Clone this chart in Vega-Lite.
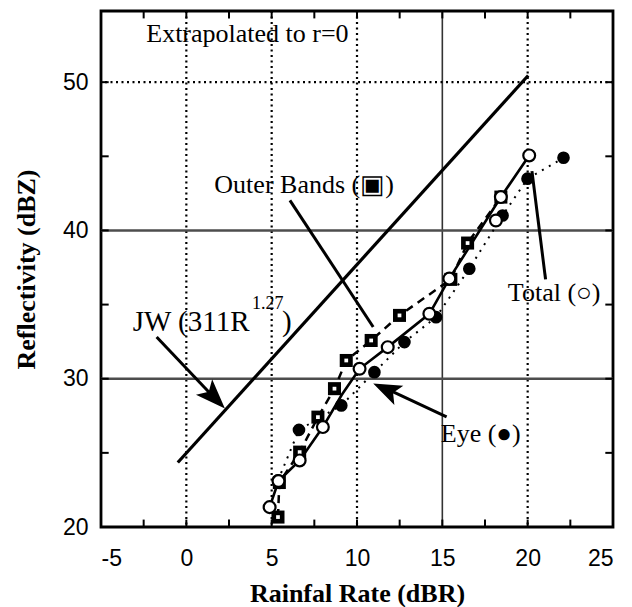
{
  "$schema": "https://vega.github.io/schema/vega-lite/v6.json",
  "width": 512,
  "height": 516,
  "autosize": {"type": "none"},
  "padding": {"left": 101, "top": 11, "right": 19, "bottom": 80},
  "background": "white",
  "config": {
    "view": {"stroke": "black", "strokeWidth": 2.8, "fill": null},
    "axis": {"domain": false, "grid": false, "ticks": false, "labelColor": "black", "labelFont": "Liberation Sans", "labelFontSize": 23, "titleColor": "black", "titleFont": "Liberation Serif", "titleFontWeight": "bold", "titleFontSize": 26}
  },
  "datasets": {
    "xticks": [{"v": -2.5}, {"v": 0}, {"v": 2.5}, {"v": 5}, {"v": 7.5}, {"v": 10}, {"v": 12.5}, {"v": 15}, {"v": 17.5}, {"v": 20}, {"v": 22.5}],
    "yticks": [{"v": 25}, {"v": 30}, {"v": 35}, {"v": 40}, {"v": 45}, {"v": 50}],
    "gridx": [{"v": 0, "t": "dot"}, {"v": 5, "t": "dot"}, {"v": 10, "t": "dot"}, {"v": 15, "t": "solid"}, {"v": 20, "t": "dot"}],
    "gridy": [{"v": 50, "t": "dot"}, {"v": 40, "t": "solid"}, {"v": 30, "t": "solid"}],
    "jw": [{"x": -0.5, "y": 24.35}, {"x": 20.03, "y": 50.45}],
    "totalLine": [
      {"x": 4.88, "y": 21.34}, {"x": 5.4, "y": 23.1}, {"x": 6.64, "y": 24.49}, {"x": 8.0, "y": 26.74},
      {"x": 9.1, "y": 28.9}, {"x": 10.15, "y": 30.67}, {"x": 11.8, "y": 32.13}, {"x": 14.24, "y": 34.38},
      {"x": 15.41, "y": 36.75}, {"x": 18.43, "y": 42.25}, {"x": 20.09, "y": 45.06}
    ],
    "totalPts": [
      {"x": 4.88, "y": 21.34}, {"x": 5.4, "y": 23.1}, {"x": 6.64, "y": 24.49}, {"x": 8.0, "y": 26.74},
      {"x": 10.15, "y": 30.67}, {"x": 11.8, "y": 32.13}, {"x": 14.24, "y": 34.38}, {"x": 15.41, "y": 36.75},
      {"x": 18.14, "y": 40.67}, {"x": 18.43, "y": 42.25}, {"x": 20.09, "y": 45.06}
    ],
    "outer": [
      {"x": 5.37, "y": 20.67}, {"x": 5.45, "y": 23.0}, {"x": 6.64, "y": 25.05}, {"x": 7.71, "y": 27.41},
      {"x": 8.68, "y": 29.33}, {"x": 9.37, "y": 31.23}, {"x": 10.83, "y": 32.58}, {"x": 12.49, "y": 34.27},
      {"x": 15.5, "y": 36.7}, {"x": 16.48, "y": 39.15}, {"x": 18.43, "y": 42.25}
    ],
    "eye": [
      {"x": 5.37, "y": 23.14}, {"x": 6.6, "y": 26.55}, {"x": 9.08, "y": 28.2}, {"x": 11.02, "y": 30.44},
      {"x": 12.78, "y": 32.47}, {"x": 14.63, "y": 34.15}, {"x": 16.58, "y": 37.42}, {"x": 18.53, "y": 41.01},
      {"x": 19.99, "y": 43.49}, {"x": 22.1, "y": 44.9}
    ],
    "arrows": [
      {"x": 6.07, "y": 42.03, "x2": 10.95, "y2": 33.49},
      {"x": -1.74, "y": 32.82, "x2": 1.9, "y2": 28.4},
      {"x": 15.25, "y": 27.43, "x2": 11.4, "y2": 29.5},
      {"x": 21.05, "y": 36.7, "x2": 20.25, "y2": 44.0}
    ],
    "heads": [{"k": "jw", "x": 2.26, "y": 27.99}, {"k": "eye", "x": 10.95, "y": 29.68}],
    "labels": [
      {"x": 3.58, "y": 53.26, "text": "Extrapolated to r=0"},
      {"x": 6.9, "y": 43.04, "text": "Outer Bands (▣)"},
      {"x": 21.55, "y": 35.81, "text": "Total (○)"},
      {"x": 17.25, "y": 26.3, "text": "Eye (●)"}
    ],
    "jwText": [{"x": 3.7, "y": 33.83, "text": "JW (311R"}],
    "jwSup": [{"x": 3.85, "y": 35.05, "text": "1.27"}],
    "jwClose": [{"x": 5.6, "y": 33.83, "text": ")"}]
  },
  "layer": [
    {
      "data": {"name": "jw"},
      "mark": {"type": "line", "color": "black", "strokeWidth": 0, "opacity": 0},
      "encoding": {
        "x": {"field": "x", "type": "quantitative", "scale": {"domain": [-5, 25], "nice": false, "zero": false},
          "axis": {"orient": "bottom", "values": [-5, 0, 5, 10, 15, 20, 25],
            "labelExpr": "'' + datum.value", "labelPadding": 20,
            "title": "Rainfal Rate (dBR)", "titleX": 256, "titleY": 66, "titleAlign": "center", "titleBaseline": "middle"}},
        "y": {"field": "y", "type": "quantitative", "scale": {"domain": [20, 54.8], "nice": false, "zero": false},
          "axis": {"orient": "left", "values": [20, 30, 40, 50],
            "labelExpr": "'' + datum.value", "labelPadding": 13,
            "title": "Reflectivity (dBZ)", "titleX": -75, "titleY": 258, "titleAlign": "center", "titleBaseline": "middle", "titleAngle": -90}}
      }
    },
    {
      "data": {"name": "gridx"},
      "transform": [{"filter": "datum.t == 'dot'"}],
      "mark": {"type": "rule", "color": "black", "strokeWidth": 2.2, "strokeDash": [2, 3.5]},
      "encoding": {"x": {"field": "v", "type": "quantitative"}}
    },
    {
      "data": {"name": "gridx"},
      "transform": [{"filter": "datum.t == 'solid'"}],
      "mark": {"type": "rule", "color": "#333333", "strokeWidth": 1.6},
      "encoding": {"x": {"field": "v", "type": "quantitative"}}
    },
    {
      "data": {"name": "gridy"},
      "transform": [{"filter": "datum.t == 'dot'"}],
      "mark": {"type": "rule", "color": "black", "strokeWidth": 2.2, "strokeDash": [2, 3.5]},
      "encoding": {"y": {"field": "v", "type": "quantitative"}}
    },
    {
      "data": {"name": "gridy"},
      "transform": [{"filter": "datum.t == 'solid'"}],
      "mark": {"type": "rule", "color": "#4d4d4d", "strokeWidth": 2.4},
      "encoding": {"y": {"field": "v", "type": "quantitative"}}
    },
    {
      "data": {"name": "jw"},
      "mark": {"type": "line", "color": "black", "strokeWidth": 3.2},
      "encoding": {"x": {"field": "x", "type": "quantitative"}, "y": {"field": "y", "type": "quantitative"}}
    },
    {
      "data": {"name": "outer"},
      "mark": {"type": "line", "color": "black", "strokeWidth": 2.5, "strokeDash": [8, 6]},
      "encoding": {"x": {"field": "x", "type": "quantitative"}, "y": {"field": "y", "type": "quantitative"}}
    },
    {
      "data": {"name": "eye"},
      "mark": {"type": "line", "color": "black", "strokeWidth": 2, "strokeDash": [2, 6]},
      "encoding": {"x": {"field": "x", "type": "quantitative"}, "y": {"field": "y", "type": "quantitative"}}
    },
    {
      "data": {"name": "totalLine"},
      "mark": {"type": "line", "color": "black", "strokeWidth": 2.6},
      "encoding": {"x": {"field": "x", "type": "quantitative"}, "y": {"field": "y", "type": "quantitative"}}
    },
    {
      "data": {"name": "eye"},
      "mark": {"type": "point", "shape": "circle", "filled": true, "color": "black", "size": 160, "opacity": 1},
      "encoding": {"x": {"field": "x", "type": "quantitative"}, "y": {"field": "y", "type": "quantitative"}}
    },
    {
      "data": {"name": "outer"},
      "mark": {"type": "point", "shape": "square", "filled": true, "color": "black", "size": 170, "opacity": 1},
      "encoding": {"x": {"field": "x", "type": "quantitative"}, "y": {"field": "y", "type": "quantitative"}}
    },
    {
      "data": {"name": "outer"},
      "mark": {"type": "point", "shape": "square", "filled": true, "color": "white", "size": 14, "opacity": 1},
      "encoding": {"x": {"field": "x", "type": "quantitative"}, "y": {"field": "y", "type": "quantitative"}}
    },
    {
      "data": {"name": "totalPts"},
      "mark": {"type": "point", "shape": "circle", "filled": false, "fill": "white", "stroke": "black", "strokeWidth": 2.2, "size": 140, "opacity": 1},
      "encoding": {"x": {"field": "x", "type": "quantitative"}, "y": {"field": "y", "type": "quantitative"}}
    },
    {
      "data": {"name": "arrows"},
      "mark": {"type": "rule", "color": "black", "strokeWidth": 3},
      "encoding": {
        "x": {"field": "x", "type": "quantitative"}, "y": {"field": "y", "type": "quantitative"},
        "x2": {"field": "x2"}, "y2": {"field": "y2"}
      }
    },
    {
      "data": {"name": "heads"},
      "transform": [{"filter": "datum.k == 'jw'"}],
      "mark": {"type": "point", "shape": "M0,0 L-0.75,2 L0,1.55 L0.75,2 Z", "filled": true, "color": "black", "size": 900, "angle": 136, "opacity": 1},
      "encoding": {"x": {"field": "x", "type": "quantitative"}, "y": {"field": "y", "type": "quantitative"}}
    },
    {
      "data": {"name": "heads"},
      "transform": [{"filter": "datum.k == 'eye'"}],
      "mark": {"type": "point", "shape": "M0,0 L-0.75,2 L0,1.55 L0.75,2 Z", "filled": true, "color": "black", "size": 800, "angle": 295, "opacity": 1},
      "encoding": {"x": {"field": "x", "type": "quantitative"}, "y": {"field": "y", "type": "quantitative"}}
    },
    {
      "data": {"name": "labels"},
      "mark": {"type": "text", "font": "Liberation Serif", "fontSize": 26, "align": "center", "baseline": "middle", "color": "black"},
      "encoding": {"x": {"field": "x", "type": "quantitative"}, "y": {"field": "y", "type": "quantitative"}, "text": {"field": "text"}}
    },
    {
      "data": {"name": "jwText"},
      "mark": {"type": "text", "font": "Liberation Serif", "fontSize": 29, "align": "right", "baseline": "middle", "color": "black"},
      "encoding": {"x": {"field": "x", "type": "quantitative"}, "y": {"field": "y", "type": "quantitative"}, "text": {"field": "text"}}
    },
    {
      "data": {"name": "jwSup"},
      "mark": {"type": "text", "font": "Liberation Serif", "fontSize": 18, "align": "left", "baseline": "middle", "color": "black"},
      "encoding": {"x": {"field": "x", "type": "quantitative"}, "y": {"field": "y", "type": "quantitative"}, "text": {"field": "text"}}
    },
    {
      "data": {"name": "jwClose"},
      "mark": {"type": "text", "font": "Liberation Serif", "fontSize": 29, "align": "left", "baseline": "middle", "color": "black"},
      "encoding": {"x": {"field": "x", "type": "quantitative"}, "y": {"field": "y", "type": "quantitative"}, "text": {"field": "text"}}
    },
    {
      "data": {"name": "xticks"},
      "mark": {"type": "rule", "color": "black", "strokeWidth": 2},
      "encoding": {"x": {"field": "v", "type": "quantitative"}, "y": {"datum": 20, "type": "quantitative"}, "y2": {"datum": 20.5}}
    },
    {
      "data": {"name": "xticks"},
      "mark": {"type": "rule", "color": "black", "strokeWidth": 2},
      "encoding": {"x": {"field": "v", "type": "quantitative"}, "y": {"datum": 54.8, "type": "quantitative"}, "y2": {"datum": 54.3}}
    },
    {
      "data": {"name": "yticks"},
      "mark": {"type": "rule", "color": "black", "strokeWidth": 2},
      "encoding": {"y": {"field": "v", "type": "quantitative"}, "x": {"datum": -5, "type": "quantitative"}, "x2": {"datum": -4.55}}
    },
    {
      "data": {"name": "yticks"},
      "mark": {"type": "rule", "color": "black", "strokeWidth": 2},
      "encoding": {"y": {"field": "v", "type": "quantitative"}, "x": {"datum": 25, "type": "quantitative"}, "x2": {"datum": 24.55}}
    }
  ]
}
